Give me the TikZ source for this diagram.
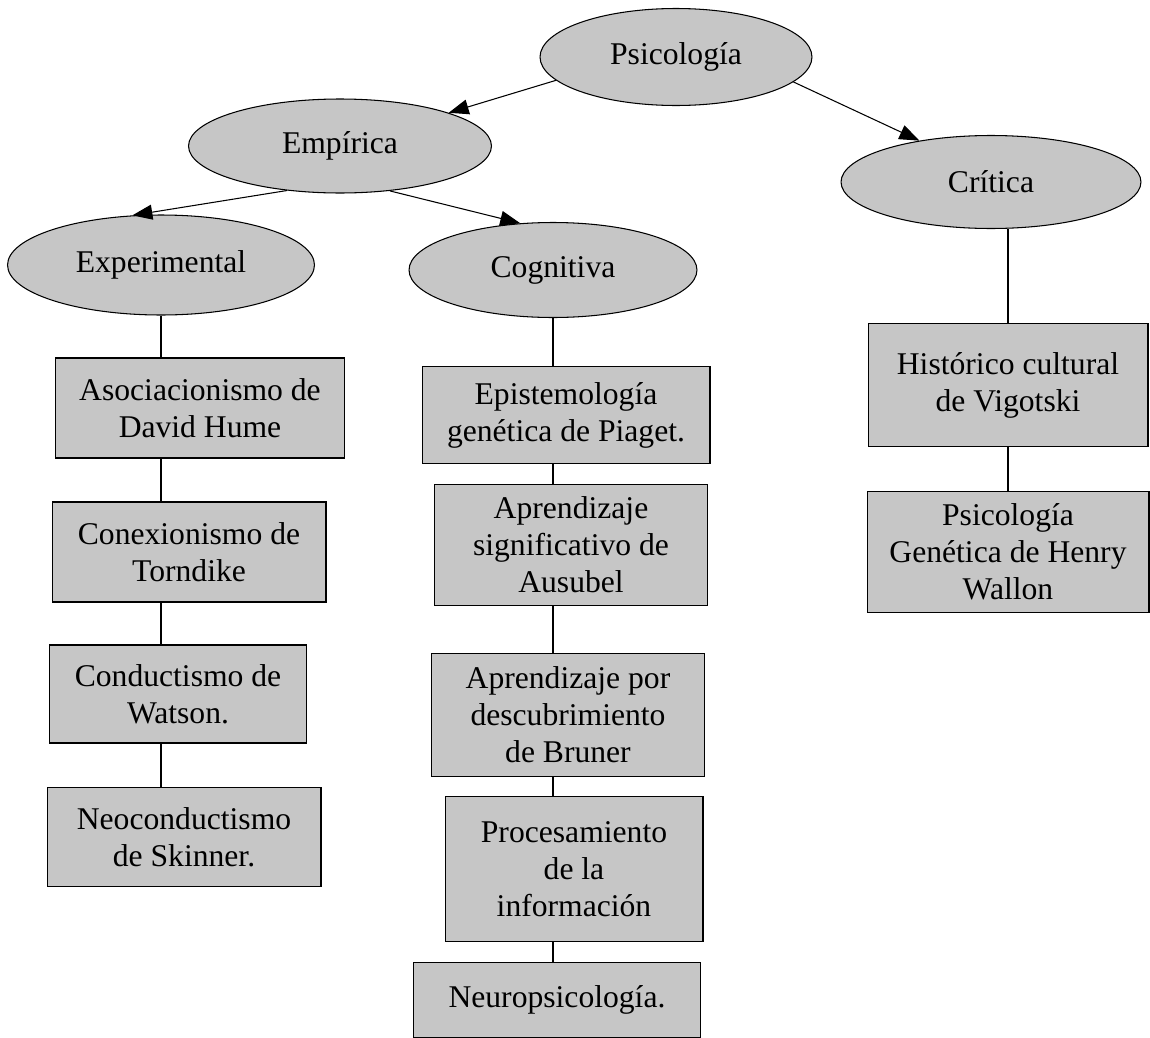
\documentclass[tikz,border=0pt]{standalone}
\usepackage{fontspec}
\setmainfont{Liberation Serif}
\usetikzlibrary{shapes.geometric,arrows.meta}

\begin{document}
\begin{tikzpicture}[x=0.02cm,y=-0.02cm,>={Triangle[length=4mm,width=3mm]},
    every node/.style={font=\fontsize{18}{21}\selectfont},
    elip/.style={shape=ellipse,draw=black,fill=gray!45,inner sep=0pt,line width=0.6pt},
    caja/.style={shape=rectangle,draw=black,fill=gray!45,inner sep=0pt,align=center,line width=0.6pt}]
    \useasboundingbox (0,0) rectangle (1150,1038);
    % ellipses
    \node[elip,minimum width=5.44cm,minimum height=1.94cm] (psi) at (676,57) {Psicología};
    \node[elip,minimum width=6.06cm,minimum height=1.88cm] (emp) at (340,146) {Empírica};
    \node[elip,minimum width=6cm,minimum height=1.86cm] (cri) at (991,182) {Crítica};
    \node[elip,minimum width=6.14cm,minimum height=2cm] (exp) at (161,265) {Experimental};
    \node[elip,minimum width=5.76cm,minimum height=1.9cm] (cog) at (553,270) {Cognitiva};
    % boxes
    \node[caja,minimum width=5.78cm,minimum height=2cm] (aso) at (200,408) {Asociacionismo de\\David Hume};
    \node[caja,minimum width=5.48cm,minimum height=2cm] (cnx) at (189,552) {Conexionismo de\\Torndike};
    \node[caja,minimum width=5.14cm,minimum height=1.96cm] (cnd) at (178,694) {Conductismo de\\Watson.};
    \node[caja,minimum width=5.48cm,minimum height=1.98cm] (neo) at (184,837) {Neoconductismo\\de Skinner.};
    \node[caja,minimum width=5.76cm,minimum height=1.94cm] (epi) at (566,415) {Epistemología\\genética de Piaget.};
    \node[caja,minimum width=5.46cm,minimum height=2.42cm] (aus) at (571,545) {Aprendizaje\\significativo de\\Ausubel};
    \node[caja,minimum width=5.46cm,minimum height=2.46cm] (bru) at (568,715) {Aprendizaje por\\descubrimiento\\de Bruner};
    \node[caja,minimum width=5.16cm,minimum height=2.9cm] (pro) at (574,869) {Procesamiento\\de la\\información};
    \node[caja,minimum width=5.74cm,minimum height=1.5cm] (neu) at (557,1000) {Neuropsicología.};
    \node[caja,minimum width=5.6cm,minimum height=2.46cm] (his) at (1008,385) {Histórico cultural\\de Vigotski};
    \node[caja,minimum width=5.64cm,minimum height=2.42cm] (wal) at (1008,552) {Psicología\\Genética de Henry\\Wallon};
    % arrows
    \path[->,line width=0.6pt](psi.191) edge (emp.17);
    \path[->,line width=0.6pt](psi.348) edge (cri.150);
    \path[->,line width=0.6pt](emp.220) edge (exp.120);
    \path[->,line width=0.6pt](emp.318) edge (cog.125);
    % plain lines
    \path[-,line width=0.6pt](exp.south) edge (exp.south |- aso.north);
    \path[-,line width=0.6pt](exp.south |- aso.south) edge (exp.south |- cnx.north);
    \path[-,line width=0.6pt](exp.south |- cnx.south) edge (exp.south |- cnd.north);
    \path[-,line width=0.6pt](exp.south |- cnd.south) edge (exp.south |- neo.north);
    \path[-,line width=0.6pt](cog.south) edge (cog.south |- epi.north);
    \path[-,line width=0.6pt](cog.south |- epi.south) edge (cog.south |- aus.north);
    \path[-,line width=0.6pt](cog.south |- aus.south) edge (cog.south |- bru.north);
    \path[-,line width=0.6pt](cog.south |- bru.south) edge (cog.south |- pro.north);
    \path[-,line width=0.6pt](cog.south |- pro.south) edge (cog.south |- neu.north);
    \path[-,line width=0.6pt](his.north |- cri.south) edge (his.north);
    \path[-,line width=0.6pt](his.south) edge (wal.north);
\end{tikzpicture}
\end{document}
